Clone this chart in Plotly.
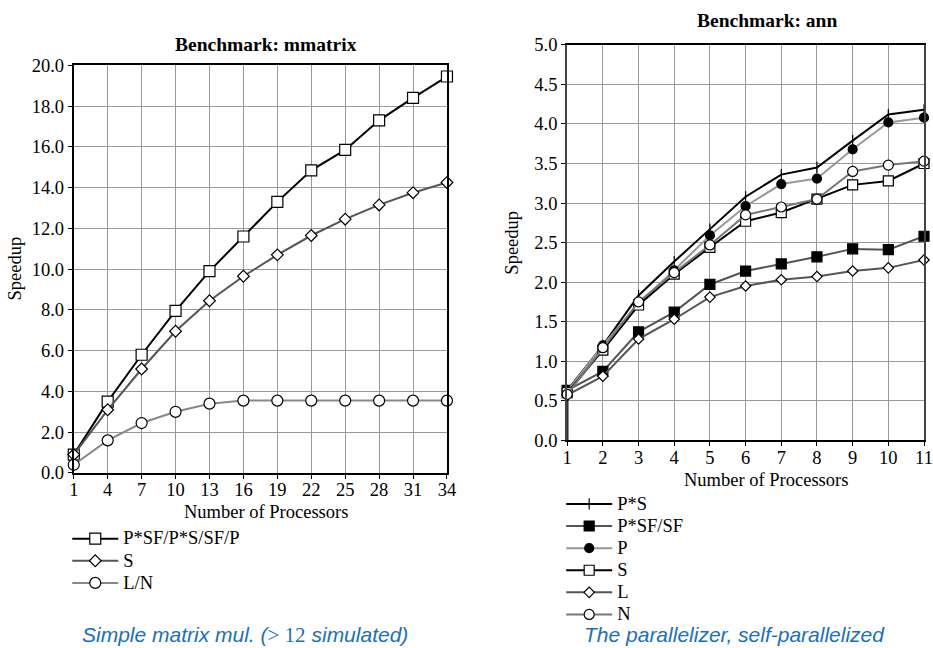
import plotly.graph_objects as go

W, H = 933, 648
# the photographed page shows the figure inside an 8px body margin, fitted to 933x648
PAD = 8
SX = W / (W + 2 * PAD)
SY = H / (H + 2 * PAD)

# ---------------- data ----------------
procs_mm = [1, 4, 7, 10, 13, 16, 19, 22, 25, 28, 31, 34]
mm_psf = [0.9, 3.5, 5.8, 7.95, 9.9, 11.6, 13.3, 14.85, 15.85, 17.3, 18.4, 19.45]
mm_s = [0.9, 3.1, 5.1, 6.95, 8.45, 9.65, 10.7, 11.65, 12.45, 13.15, 13.75, 14.25]
mm_ln = [0.4, 1.6, 2.45, 3.0, 3.4, 3.55, 3.55, 3.55, 3.55, 3.55, 3.55, 3.55]

procs_ann = [1, 2, 3, 4, 5, 6, 7, 8, 9, 10, 11]
ann_ps = [0.63, 1.2, 1.83, 2.26, 2.67, 3.08, 3.36, 3.45, 3.79, 4.12, 4.18]
ann_psfsf = [0.63, 0.87, 1.37, 1.62, 1.97, 2.14, 2.23, 2.32, 2.42, 2.41, 2.58]
ann_p = [0.62, 1.2, 1.73, 2.15, 2.59, 2.96, 3.24, 3.31, 3.68, 4.02, 4.08]
ann_s = [0.6, 1.14, 1.71, 2.10, 2.44, 2.77, 2.88, 3.05, 3.23, 3.28, 3.5]
ann_l = [0.57, 0.81, 1.28, 1.53, 1.81, 1.95, 2.03, 2.07, 2.14, 2.18, 2.28]
ann_n = [0.58, 1.17, 1.75, 2.12, 2.47, 2.85, 2.95, 3.05, 3.40, 3.48, 3.53]

SERIF = "Liberation Serif"
FS = 18.5  # main text size

def px_x(p):
    return min(1.0, max(0.0, (p / SX - PAD) / W))

def px_y(p):
    return min(1.0, max(0.0, 1 - (p / SY - PAD) / H))

fig = go.Figure()

def add(x, y, name, lc, sym, mfill, mline, msize, xa, ya, legend):
    fig.add_trace(go.Scatter(
        x=x, y=y, mode="lines+markers",
        name="<span style='font-size:%spx'>%s</span>" % (FS, name),
        line=dict(color=lc, width=2),
        marker=dict(symbol=sym, color=mfill, size=msize,
                    line=dict(color=mline, width=1.2)),
        xaxis=xa, yaxis=ya, legend=legend, cliponaxis=False))

# left chart
add(procs_mm, mm_psf, "P*SF/P*S/SF/P", "#000000", "square", "white", "#000000", 11, "x", "y", "legend")
add(procs_mm, mm_s, "S", "#555555", "diamond", "white", "#000000", 9, "x", "y", "legend")
add(procs_mm, mm_ln, "L/N", "#888888", "circle", "white", "#000000", 11, "x", "y", "legend")

# right chart
fig.add_trace(go.Scatter(x=[procs_ann[0], procs_ann[0]], y=[0, ann_ps[0]], mode="lines",
                         line=dict(color="#000000", width=2.5), showlegend=False,
                         xaxis="x2", yaxis="y2", cliponaxis=False, hoverinfo="skip"))
add(procs_ann, ann_ps, "P*S", "#000000", "line-ns-open", "#000000", "#000000", 8, "x2", "y2", "legend2")
add(procs_ann, ann_psfsf, "P*SF/SF", "#555555", "square", "#000000", "#000000", 10, "x2", "y2", "legend2")
add(procs_ann, ann_p, "P", "#999999", "circle", "#000000", "#000000", 9, "x2", "y2", "legend2")
add(procs_ann, ann_s, "S", "#000000", "square", "white", "#000000", 10, "x2", "y2", "legend2")
add(procs_ann, ann_l, "L", "#555555", "diamond", "white", "#000000", 8, "x2", "y2", "legend2")
add(procs_ann, ann_n, "N", "#777777", "circle", "white", "#000000", 10, "x2", "y2", "legend2")

tickfont = dict(family=SERIF, size=FS, color="#000")
common_axis = dict(showgrid=True, gridcolor="#999999", gridwidth=1, zeroline=False,
                   showline=True, mirror=True, linewidth=2, ticks="outside",
                   ticklen=4, tickwidth=1, tickcolor="#000", tickfont=tickfont)

legfont = dict(family=SERIF, size=14.7, color="#000")
fig.update_layout(
    width=W, height=H, margin=dict(l=0, r=0, t=0, b=0),
    paper_bgcolor="white", plot_bgcolor="white",
    xaxis=dict(domain=[px_x(76.5), px_x(449)], range=[1, 34], tickvals=procs_mm,
               linecolor="#000", anchor="y", ticklabelstandoff=-5, **common_axis),
    yaxis=dict(domain=[px_y(474), px_y(63.5)], range=[0, 20], dtick=2, tickformat=".1f",
               linecolor="#000", anchor="x", **common_axis),
    xaxis2=dict(domain=[px_x(569), px_x(929)], range=[1, 11], tickvals=procs_ann,
                linecolor="#000", anchor="y2", ticklabelstandoff=-4, **common_axis),
    yaxis2=dict(domain=[px_y(441), px_y(43)], range=[0, 5], dtick=0.5, tickformat=".1f",
                linecolor="#444", anchor="x2", **common_axis),
    legend=dict(x=px_x(70), y=px_y(524), xanchor="left", yanchor="top",
                font=legfont, bgcolor="rgba(0,0,0,0)", tracegroupgap=0, itemwidth=46),
    legend2=dict(x=px_x(563), y=px_y(489), xanchor="left", yanchor="top",
                 font=legfont, bgcolor="rgba(0,0,0,0)", tracegroupgap=0, itemwidth=46),
    showlegend=True,
)

ann = []
def text(x, y, s, size=FS, bold=False, angle=0, family=SERIF, color="#000", italic=False):
    ann.append(dict(x=px_x(x), y=px_y(y), xref="paper", yref="paper", text=s,
                    showarrow=False, textangle=angle, xanchor="center", yanchor="middle",
                    font=dict(family=family, size=size, color=color,
                              weight="bold" if bold else "normal",
                              style="italic" if italic else "normal")))

text(268, 43, "Benchmark: mmatrix", size=19.5, bold=True)
text(768, 18, "Benchmark: ann", size=19.5, bold=True)
text(18, 268, "Speedup", angle=-90)
text(513, 242, "Speedup", angle=-90)
text(268, 513, "Number of Processors")
text(767, 481, "Number of Processors")
blue = "#1a6fc0"
text(247, 637, "Simple matrix mul. (<span style='font-family:Liberation Serif;font-style:normal'>&gt; 12</span> simulated)",
     size=21, family="Liberation Sans", color=blue, italic=True)
text(736, 637, "The parallelizer, self-parallelized", size=21, family="Liberation Sans",
     color=blue, italic=True)
fig.update_layout(annotations=ann)

fig.write_html("out.html")
